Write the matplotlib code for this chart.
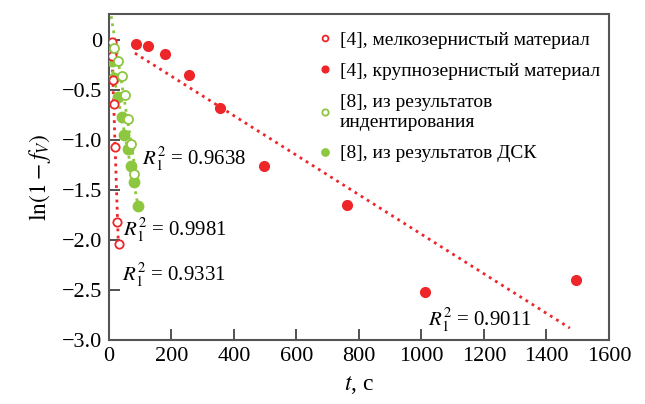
import numpy as np
import matplotlib
matplotlib.use("Agg")
import matplotlib.pyplot as plt
from matplotlib.ticker import FuncFormatter

# [4] fine-grained material (hollow red)
fine_t = [8, 9, 11, 14, 16, 18, 24, 32]
fine_y = [-0.02, -0.12, -0.16, -0.40, -0.64, -1.07, -1.82, -2.04]
fine_fit_range = [9, 30]

# [4] coarse-grained material (filled red)
coarse_t = [86, 125, 179, 256, 355, 496, 762, 1010, 1494]
coarse_y = [-0.04, -0.06, -0.14, -0.35, -0.68, -1.26, -1.65, -2.52, -2.40]
coarse_fit_range = [83, 1475]

# [8] indentation (hollow green)
indent_t = [17, 30, 42, 51, 62, 70, 81]
indent_y = [-0.08, -0.21, -0.36, -0.55, -0.79, -1.04, -1.34]
indent_fit_range = [7, 84]

# [8] DSC (filled green)
dsc_t = [8, 17, 28, 40, 48, 60, 70, 80, 93]
dsc_y = [-0.21, -0.38, -0.57, -0.77, -0.95, -1.09, -1.26, -1.42, -1.66]
dsc_fit_range = [4, 94]

labels = ["[4], мелкозернистый материал",
          "[4], крупнозернистый материал",
          "[8], из результатов\nиндентирования",
          "[8], из результатов ДСК"]

r2_texts = ["0.9638", "0.9981", "0.9331", "0.9011"]
r2_pos = [(105, -1.19), (45, -1.90), (40, -2.35), (1020, -2.80)]

RED = "#ee2529"
GREEN = "#8dc63f"

plt.rcParams["font.family"] = ["Liberation Serif", "DejaVu Serif"]
plt.rcParams["mathtext.fontset"] = "stix"

fig = plt.figure(figsize=(6.45, 4.04), dpi=100)
ax = fig.add_axes([0.169, 0.158, 0.775, 0.807])


def fit_line(t, y, rng):
    k, b = np.polyfit(t, y, 1)
    tt = np.array(rng, dtype=float)
    return tt, k * tt + b


# fit lines first so markers sit on top
for t, y, rng, c in [(fine_t, fine_y, fine_fit_range, RED),
                     (coarse_t, coarse_y, coarse_fit_range, RED),
                     (indent_t, indent_y, indent_fit_range, GREEN),
                     (dsc_t, dsc_y, dsc_fit_range, GREEN)]:
    tt, yy = fit_line(t, y, rng)
    ax.plot(tt, yy, linestyle=(0, (1, 1.6)), color=c, lw=2.0, zorder=2)

ax.plot(fine_t, fine_y, "o", ms=6, mfc="white", mec=RED, mew=1.3,
        label=labels[0], zorder=4)
ax.plot(coarse_t, coarse_y, "o", ms=7, color=RED, label=labels[1], zorder=4)
ax.plot(indent_t, indent_y, "o", ms=6.5, mfc="white", mec=GREEN, mew=1.3,
        label=labels[2], zorder=4)
ax.plot(dsc_t, dsc_y, "o", ms=7.5, color=GREEN, label=labels[3], zorder=3)

for txt, (x, y) in zip(r2_texts, r2_pos):
    ax.text(x, y, r"$R_1^2$ = " + txt, fontsize=15, va="center", ha="left")

ax.set_xlim(0, 1600)
ax.set_ylim(-3.0, 0.26)
ax.set_xticks(np.arange(0, 1601, 200))
ax.set_yticks(np.arange(-3.0, 0.01, 0.5))
ax.yaxis.set_major_formatter(FuncFormatter(
    lambda v, p: "0" if abs(v) < 1e-9 else ("%.1f" % v).replace("-", "\u2212")))

ax.tick_params(direction="in", length=8, width=1.2, labelsize=16, colors="#333333",
               labelcolor="black", pad=5)
for s in ax.spines.values():
    s.set_linewidth(1.5)
    s.set_color("#555555")

ax.set_xlabel(r"$t$, с", fontsize=17, labelpad=6)
ax.set_ylabel(r"$\ln(1 - f_V)$", fontsize=17, labelpad=6)

leg = ax.legend(loc="upper right", bbox_to_anchor=(1.0, 0.975), frameon=False,
                fontsize=14, handlelength=0.6, handletextpad=0.45,
                borderaxespad=0.05, labelspacing=0.72, markerscale=0.7)

fig.savefig("out.png", dpi=100)
